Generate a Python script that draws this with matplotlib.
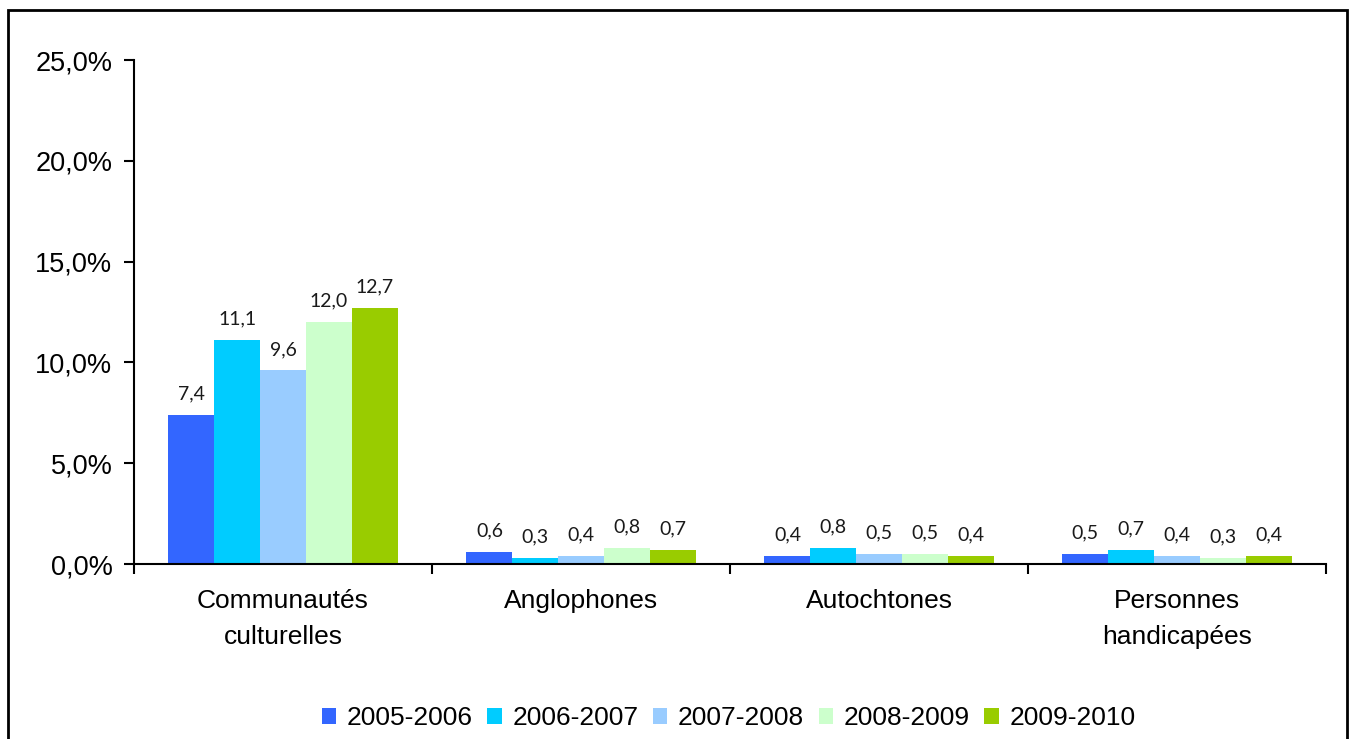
import numpy as np
import matplotlib
matplotlib.use('Agg')
import matplotlib.pyplot as plt
from matplotlib.patches import Rectangle

# données
categories = ['Communautés\nculturelles', 'Anglophones', 'Autochtones', 'Personnes\nhandicapées']
series_names = ['2005-2006', '2006-2007', '2007-2008', '2008-2009', '2009-2010']
v_2005 = [7.4, 0.6, 0.4, 0.5]
v_2006 = [11.1, 0.3, 0.8, 0.7]
v_2007 = [9.6, 0.4, 0.5, 0.4]
v_2008 = [12.0, 0.8, 0.5, 0.3]
v_2009 = [12.7, 0.7, 0.4, 0.4]
values = [v_2005, v_2006, v_2007, v_2008, v_2009]
colors = ['#3366FF', '#00CCFF', '#99CCFF', '#CCFFCC', '#99CC00']
yticks = [0, 5, 10, 15, 20, 25]

plt.rcParams['font.family'] = ['Liberation Sans', 'DejaVu Sans']

fig = plt.figure(figsize=(13.49, 7.39), dpi=100)
ax = fig.add_axes([134 / 1349, 1 - 564 / 739, (1326 - 134) / 1349, (564 - 60) / 739])

x = np.arange(len(categories)) + 0.5
w = 0.1537
for i, (vals, col, name) in enumerate(zip(values, colors, series_names)):
    pos = x + (i - 2) * w
    bars = ax.bar(pos, vals, width=w, color=col, label=name, linewidth=0)
    for xb, v in zip(pos, vals):
        ax.annotate(f'{v:.1f}'.replace('.', ','), (xb, v), xytext=(0, 9),
                    textcoords='offset points', ha='center', va='bottom',
                    fontsize=14, family='Lato', color='#1a1a1a')

ax.set_xlim(0, 4)
ax.set_ylim(0, 25)
ax.set_yticks(yticks)
ax.set_yticklabels([f'{t:.1f}%'.replace('.', ',') for t in yticks], fontsize=19.5)
ax.tick_params(axis='y', direction='out', length=7, width=1.5, pad=8.5)

# graduations aux limites des catégories, étiquettes au centre
ax.set_xticks([0, 1, 2, 3, 4])
ax.set_xticklabels([])
ax.set_xticks(x, minor=True)
ax.set_xticklabels(categories, minor=True, fontsize=19, linespacing=1.65)
ax.tick_params(axis='x', which='major', direction='out', length=7, width=1.5)
ax.tick_params(axis='x', which='minor', length=0, pad=18)

for s in ['top', 'right']:
    ax.spines[s].set_visible(False)
for s in ['left', 'bottom']:
    ax.spines[s].set_linewidth(1.5)

fig.legend(loc='center', bbox_to_anchor=(0.54, 1 - 718 / 739), ncol=5, frameon=False,
           fontsize=19, handlelength=0.55, handleheight=0.55, handletextpad=0.4,
           columnspacing=0.55, borderaxespad=0)

fig.patches.append(Rectangle((8 / 1349, -0.05), (1347 - 8) / 1349, (739 - 10) / 739 + 0.05,
                             transform=fig.transFigure, fill=False, edgecolor='black',
                             linewidth=2))

fig.savefig('out.png', dpi=100)
